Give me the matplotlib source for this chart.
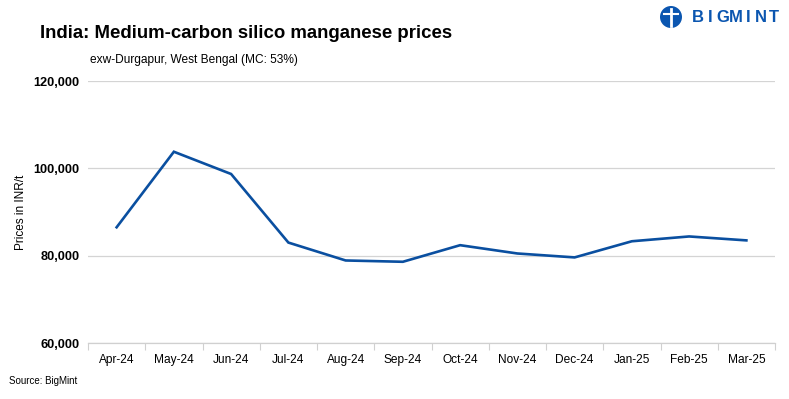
import matplotlib
matplotlib.use("Agg")
import matplotlib.pyplot as plt
from matplotlib import font_manager
from matplotlib.patches import Ellipse

# ─── Data ─────────────────────────────────────────────────────────────────────
months = ["Apr-24", "May-24", "Jun-24", "Jul-24", "Aug-24", "Sep-24",
          "Oct-24", "Nov-24", "Dec-24", "Jan-25", "Feb-25", "Mar-25"]
prices = [86500, 103800, 98700, 83000, 78900, 78600,
          82400, 80500, 79600, 83300, 84400, 83500]
y_ticks = [60000, 80000, 100000, 120000]

LINE_COLOR = "#0A4FA0"
LOGO_COLOR = "#0B56B0"
W, H = 789, 399

names = {f.name for f in font_manager.fontManager.ttflist}
if "Liberation Sans Narrow" in names:
    NARROW = dict(family=["Liberation Sans Narrow", "DejaVu Sans"])
else:
    NARROW = dict(family=["Liberation Sans", "DejaVu Sans"])
plt.rcParams["font.family"] = ["Liberation Sans", "DejaVu Sans"]

fig = plt.figure(figsize=(W / 100, H / 100), dpi=100)
ax = fig.add_axes([88 / W, 1 - 343 / H, 687 / W, 262 / H])

x = list(range(len(months)))
ax.plot(x, prices, color=LINE_COLOR, lw=1.9, solid_joinstyle="miter")

ax.set_xlim(-0.5, len(months) - 0.5)
ax.set_ylim(60000, 120000)
ax.set_yticks(y_ticks)
ax.set_yticklabels([f"{v:,}" for v in y_ticks], fontsize=9.2, fontweight="bold")
ax.set_xticks(x)
ax.set_xticklabels(months, fontsize=8.6, **NARROW)
ax.set_xticks([i - 0.5 for i in range(len(months) + 1)], minor=True)
ax.tick_params(axis="x", which="major", length=0, pad=8)
ax.tick_params(axis="x", which="minor", length=5, color="#d0d0d0", width=0.8)
ax.tick_params(axis="y", length=0, pad=6)

ax.grid(axis="y", color="#d4d4d4", lw=0.9)
ax.set_axisbelow(True)
for s in ["top", "right", "left"]:
    ax.spines[s].set_visible(False)
ax.spines["bottom"].set_color("#d0d0d0")
ax.spines["bottom"].set_linewidth(0.9)

ax.set_ylabel("Prices in INR/t", fontsize=8.5, labelpad=5)

# ── Titles / source ───────────────────────────────────────────────────────────
fig.text(40 / W, 1 - 33 / H, "India: Medium-carbon silico manganese prices",
         fontsize=13.4, fontweight="bold", va="center", ha="left")
fig.text(90 / W, 1 - 60 / H, "exw-Durgapur, West Bengal (MC: 53%)",
         fontsize=8.6, va="center", ha="left")
fig.text(9 / W, 1 - 381 / H, "Source: BigMint", fontsize=7,
         va="center", ha="left", **NARROW)

# ── Logo ──────────────────────────────────────────────────────────────────────
cx, cy, r = 671, 17, 11
fig.patches.append(Ellipse((cx / W, 1 - cy / H), 2 * r / W, 2 * r / H,
                           transform=fig.transFigure, facecolor=LOGO_COLOR,
                           edgecolor="none"))
# simple white figure inside the globe
fig.lines.append(plt.Line2D([cx / W, cx / W], [1 - (cy - 8) / H, 1 - (cy + 9) / H],
                            transform=fig.transFigure, color="white", lw=2))
fig.lines.append(plt.Line2D([(cx - 7) / W, (cx + 7) / W], [1 - (cy - 3) / H, 1 - (cy - 3) / H],
                            transform=fig.transFigure, color="white", lw=1.5))
for i, ch in enumerate("BIGMINT"):
    fig.text((698 + i * 12.6) / W, 1 - 18 / H, ch, fontsize=12, fontweight="bold",
             color=LOGO_COLOR, va="center", ha="center")

fig.savefig("out.png", dpi=100)
